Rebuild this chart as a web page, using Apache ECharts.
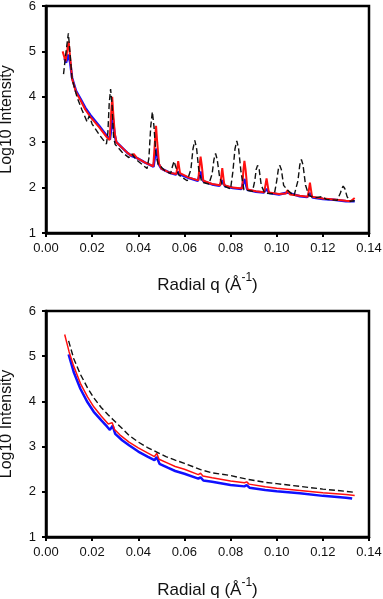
<!DOCTYPE html>
<html>
<head>
<meta charset="utf-8">
<script src="https://cdn.jsdelivr.net/npm/echarts@6/dist/echarts.min.js"></script>
<style>
  html, body { margin: 0; padding: 0; background: #fff; }
  #main { width: 383px; height: 599px; }
</style>
</head>
<body>
<div id="main"></div>
<script>
// tick labels
const xTicks = ['0.00', '0.02', '0.04', '0.06', '0.08', '0.10', '0.12', '0.14'];
const yTicks = ['1', '2', '3', '4', '5', '6'];

// top panel: [q, log10 I]
const topRed = [
  [0.0072, 5.00], [0.0085, 4.78], [0.0098, 5.22], [0.0107, 4.75], [0.0113, 4.40], [0.0130, 4.10],
  [0.0149, 3.93], [0.0170, 3.72], [0.0192, 3.56], [0.0230, 3.33], [0.0265, 3.10], [0.0276, 3.05],
  [0.0282, 3.60], [0.0287, 4.00], [0.0292, 3.60], [0.0298, 3.20], [0.0305, 3.00], [0.0352, 2.77],
  [0.0370, 2.70], [0.0380, 2.74], [0.0395, 2.65], [0.0430, 2.55], [0.0465, 2.47], [0.0472, 3.00],
  [0.0477, 3.36], [0.0482, 3.00], [0.0490, 2.52], [0.0500, 2.42], [0.0540, 2.32], [0.0565, 2.30],
  [0.0573, 2.58], [0.0581, 2.32], [0.0620, 2.22], [0.0660, 2.16], [0.0666, 2.50], [0.0670, 2.68],
  [0.0675, 2.50], [0.0682, 2.15], [0.0720, 2.08], [0.0755, 2.05], [0.0764, 2.43], [0.0773, 2.05],
  [0.0810, 2.00], [0.0850, 1.98], [0.0856, 2.40], [0.0860, 2.59], [0.0865, 2.40], [0.0873, 1.96],
  [0.0910, 1.92], [0.0946, 1.90], [0.0956, 2.20], [0.0966, 1.89], [0.1010, 1.86], [0.1040, 1.87],
  [0.1047, 1.94], [0.1058, 1.85], [0.1100, 1.82], [0.1135, 1.80], [0.1144, 2.11], [0.1153, 1.80],
  [0.1200, 1.76], [0.1248, 1.74], [0.1300, 1.71], [0.1320, 1.70], [0.1338, 1.77]
];
const topBlue = [
  [0.0080, 4.85], [0.0087, 4.75], [0.0096, 4.93], [0.0105, 4.75], [0.0113, 4.42], [0.0130, 4.13],
  [0.0149, 3.96], [0.0170, 3.76], [0.0192, 3.60], [0.0230, 3.36], [0.0265, 3.13], [0.0277, 3.06],
  [0.0289, 3.55], [0.0298, 3.15], [0.0305, 3.00], [0.0352, 2.77], [0.0370, 2.70], [0.0395, 2.65],
  [0.0430, 2.55], [0.0466, 2.46], [0.0477, 2.86], [0.0488, 2.52], [0.0500, 2.42], [0.0540, 2.32],
  [0.0563, 2.29], [0.0573, 2.35], [0.0585, 2.28], [0.0620, 2.21], [0.0658, 2.15], [0.0670, 2.35],
  [0.0682, 2.14], [0.0720, 2.07], [0.0752, 2.04], [0.0764, 2.16], [0.0776, 2.03], [0.0810, 1.99],
  [0.0847, 1.97], [0.0860, 2.19], [0.0873, 1.95], [0.0910, 1.91], [0.0944, 1.89], [0.0956, 1.97],
  [0.0968, 1.88], [0.1010, 1.85], [0.1047, 1.89], [0.1100, 1.81], [0.1132, 1.79], [0.1144, 1.88],
  [0.1156, 1.78], [0.1200, 1.75], [0.1248, 1.73], [0.1300, 1.70], [0.1338, 1.70]
];
const topDashed = [
  [0.0076, 4.50], [0.0087, 5.00], [0.0097, 5.40], [0.0105, 4.90], [0.0113, 4.40], [0.0134, 4.00],
  [0.0156, 3.71], [0.0178, 3.45], [0.0187, 3.58], [0.0200, 3.40], [0.0230, 3.17], [0.0262, 2.96],
  [0.0268, 3.20], [0.0274, 3.85], [0.0280, 4.17], [0.0286, 3.85], [0.0293, 3.10], [0.0300, 2.95],
  [0.0330, 2.78], [0.0359, 2.66], [0.0373, 2.74], [0.0390, 2.62], [0.0438, 2.42],
  [0.0446, 2.65], [0.0454, 3.35], [0.0461, 3.67], [0.0468, 3.35], [0.0476, 2.75], [0.0486, 2.52],
  [0.0515, 2.37], [0.0540, 2.31], [0.0547, 2.45], [0.0555, 2.58], [0.0563, 2.45], [0.0575, 2.28],
  [0.0612, 2.15], [0.0628, 2.40], [0.0637, 2.85], [0.0645, 3.04], [0.0653, 2.85], [0.0662, 2.40],
  [0.0675, 2.12], [0.0706, 2.08], [0.0720, 2.30], [0.0728, 2.62], [0.0735, 2.75], [0.0742, 2.62],
  [0.0752, 2.25], [0.0765, 2.05], [0.0800, 1.97], [0.0810, 2.35], [0.0819, 2.85], [0.0827, 3.03],
  [0.0835, 2.85], [0.0845, 2.35], [0.0858, 1.95], [0.0895, 1.92], [0.0905, 2.15], [0.0911, 2.40],
  [0.0917, 2.49], [0.0924, 2.40], [0.0933, 2.05], [0.0948, 1.88], [0.0990, 1.86], [0.1000, 2.15],
  [0.1007, 2.40], [0.1013, 2.49], [0.1020, 2.40], [0.1030, 2.05], [0.1046, 1.95], [0.1075, 1.82],
  [0.1092, 2.15], [0.1100, 2.50], [0.1107, 2.62], [0.1114, 2.50], [0.1125, 2.05], [0.1140, 1.82],
  [0.1170, 1.78], [0.1198, 1.80], [0.1215, 1.74], [0.1262, 1.72], [0.1276, 1.88], [0.1282, 1.98],
  [0.1288, 2.03], [0.1295, 1.98], [0.1305, 1.80], [0.1318, 1.70], [0.1338, 1.71]
];

// bottom panel
const botRed = [
  [0.0081, 5.48], [0.0090, 5.30], [0.0100, 5.10], [0.0120, 4.78], [0.0149, 4.40], [0.0180, 4.10],
  [0.0207, 3.88], [0.0240, 3.67], [0.0270, 3.50], [0.0278, 3.47], [0.0287, 3.53], [0.0297, 3.38],
  [0.0320, 3.26], [0.0360, 3.10], [0.0400, 2.97], [0.0440, 2.86], [0.0470, 2.78], [0.0480, 2.85],
  [0.0490, 2.72], [0.0530, 2.63], [0.0560, 2.56], [0.0600, 2.50], [0.0660, 2.38], [0.0670, 2.41],
  [0.0680, 2.35], [0.0720, 2.31], [0.0800, 2.24], [0.0860, 2.20], [0.0870, 2.22], [0.0880, 2.17],
  [0.0950, 2.11], [0.1000, 2.08], [0.1100, 2.03], [0.1200, 1.98], [0.1300, 1.94], [0.1338, 1.92]
];
const botBlue = [
  [0.0098, 5.04], [0.0120, 4.65], [0.0149, 4.28], [0.0180, 3.98], [0.0207, 3.77], [0.0240, 3.58],
  [0.0265, 3.44], [0.0277, 3.37], [0.0289, 3.46], [0.0300, 3.28], [0.0330, 3.14], [0.0360, 3.03],
  [0.0400, 2.89], [0.0440, 2.78], [0.0470, 2.70], [0.0480, 2.77], [0.0492, 2.62], [0.0530, 2.53],
  [0.0560, 2.46], [0.0600, 2.40], [0.0660, 2.29], [0.0670, 2.32], [0.0682, 2.25], [0.0720, 2.22],
  [0.0800, 2.15], [0.0860, 2.12], [0.0870, 2.15], [0.0882, 2.09], [0.0950, 2.04], [0.1000, 2.01],
  [0.1100, 1.97], [0.1200, 1.91], [0.1300, 1.87], [0.1327, 1.85]
];
const botDashed = [
  [0.0098, 5.34], [0.0120, 4.95], [0.0149, 4.60], [0.0180, 4.30], [0.0207, 4.08], [0.0240, 3.86],
  [0.0270, 3.70], [0.0290, 3.60], [0.0320, 3.45], [0.0360, 3.25], [0.0400, 3.10], [0.0440, 2.98],
  [0.0480, 2.88], [0.0520, 2.78], [0.0560, 2.70], [0.0600, 2.63], [0.0670, 2.49], [0.0720, 2.42],
  [0.0800, 2.36], [0.0870, 2.28], [0.0950, 2.21], [0.1000, 2.18], [0.1100, 2.12], [0.1200, 2.06],
  [0.1300, 2.01], [0.1335, 1.99]
];

const FONT = '"Liberation Sans", Arial, sans-serif';

const chart = echarts.init(document.getElementById('main'));

function xAxis(gridIndex, gap) {
  return {
    type: 'value',
    gridIndex: gridIndex,
    min: 0,
    max: 0.14,
    interval: 0.02,
    name: '{n|Radial q (Å}{s|-1}{n|)}',
    nameLocation: 'middle',
    nameGap: gap,
    nameTextStyle: {
      rich: {
        n: { fontFamily: FONT, fontSize: 17, color: '#111', lineHeight: 22, verticalAlign: 'bottom' },
        s: { fontFamily: FONT, fontSize: 12, color: '#111', lineHeight: 22, verticalAlign: 'top' }
      }
    },
    axisLine: { show: true, onZero: false, lineStyle: { color: '#000', width: 2.5 } },
    axisTick: { show: true, inside: false, length: 4, lineStyle: { color: '#000', width: 2 } },
    axisLabel: {
      margin: 9,
      fontFamily: FONT,
      fontSize: 13,
      color: '#111',
      formatter: (v) => xTicks[Math.round(v / 0.02)]
    },
    splitLine: { show: false }
  };
}

function yAxis(gridIndex) {
  return {
    type: 'value',
    gridIndex: gridIndex,
    min: 1,
    max: 6,
    interval: 1,
    name: 'Log10 Intensity',
    nameLocation: 'middle',
    nameGap: 31,
    nameTextStyle: { fontFamily: FONT, fontSize: 16, color: '#111' },
    axisLine: { show: true, onZero: false, lineStyle: { color: '#000', width: 2.5 } },
    axisTick: { show: true, inside: false, length: 4, lineStyle: { color: '#000', width: 2 } },
    axisLabel: {
      margin: 10,
      fontFamily: FONT,
      fontSize: 13,
      color: '#111',
      formatter: (v) => yTicks[Math.round(v - 1)]
    },
    splitLine: { show: false }
  };
}

function line(data, idx, color, width, dashed) {
  return {
    type: 'line',
    xAxisIndex: idx,
    yAxisIndex: idx,
    data: data,
    symbol: 'none',
    smooth: false,
    lineStyle: { color: color, width: width, type: dashed ? [6, 3] : 'solid' },
    z: dashed ? 4 : 3
  };
}

chart.setOption({
  animation: false,
  backgroundColor: '#fff',
  grid: [
    { left: 46, top: 6, width: 323, height: 227, outerBoundsMode: 'none', containLabel: false,
      show: true, borderColor: '#000', borderWidth: 2.5, backgroundColor: '#fff' },
    { left: 46, top: 311, width: 323, height: 226, outerBoundsMode: 'none', containLabel: false,
      show: true, borderColor: '#000', borderWidth: 2.5, backgroundColor: '#fff' }
  ],
  xAxis: [xAxis(0, 39), xAxis(1, 40)],
  yAxis: [yAxis(0), yAxis(1)],
  series: [
    line(topBlue, 0, '#1010ff', 2.5, false),
    line(topRed, 0, '#ff1010', 2, false),
    line(topDashed, 0, '#111', 1.4, true),
    line(botBlue, 1, '#1010ff', 2.5, false),
    line(botRed, 1, '#ff1010', 1.5, false),
    line(botDashed, 1, '#111', 1.4, true)
  ]
});
</script>
</body>
</html>
